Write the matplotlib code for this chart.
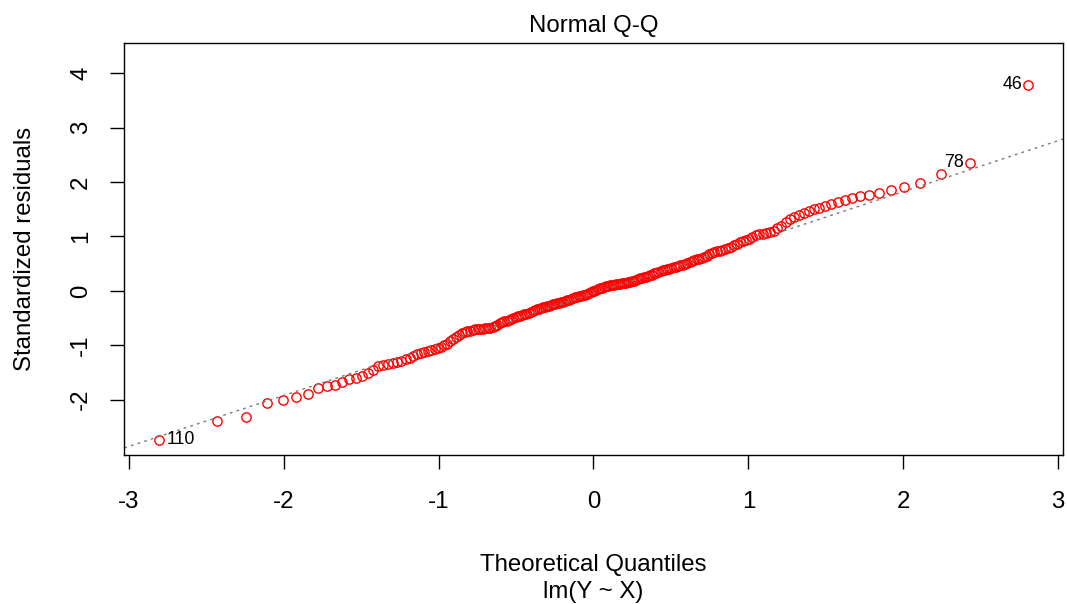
"""Normal Q-Q plot of standardized residuals for lm(Y ~ X), styled like R's plot.lm(which=2)."""

from statistics import NormalDist

import matplotlib

matplotlib.use("Agg")
import matplotlib.pyplot as plt
import numpy as np

plt.rcParams["font.family"] = ["Liberation Sans", "DejaVu Sans"]

# sorted standardized residuals (n = 200)
std_resid_sorted = [
    -2.74, -2.40, -2.33, -2.06, -2.00, -1.95, -1.90, -1.79, -1.76, -1.74,
    -1.68, -1.63, -1.60, -1.57, -1.51, -1.45, -1.38, -1.36, -1.35, -1.33,
    -1.31, -1.29, -1.26, -1.23, -1.20, -1.17, -1.15, -1.12, -1.10, -1.08,
    -1.07, -1.05, -1.03, -1.00, -0.97, -0.93, -0.89, -0.85, -0.81, -0.78,
    -0.76, -0.74, -0.73, -0.72, -0.71, -0.71, -0.70, -0.70, -0.69, -0.69,
    -0.68, -0.66, -0.64, -0.62, -0.60, -0.58, -0.56, -0.55, -0.53, -0.51,
    -0.50, -0.48, -0.47, -0.46, -0.45, -0.43, -0.42, -0.40, -0.39, -0.37,
    -0.36, -0.34, -0.33, -0.31, -0.30, -0.29, -0.28, -0.27, -0.26, -0.25,
    -0.24, -0.23, -0.22, -0.21, -0.20, -0.18, -0.17, -0.16, -0.15, -0.13,
    -0.12, -0.11, -0.10, -0.09, -0.08, -0.07, -0.06, -0.04, -0.03, -0.01,
    0.00, 0.02, 0.03, 0.05, 0.06, 0.07, 0.08, 0.09, 0.10, 0.11,
    0.11, 0.12, 0.13, 0.13, 0.14, 0.14, 0.15, 0.16, 0.17, 0.18,
    0.19, 0.20, 0.21, 0.23, 0.24, 0.25, 0.26, 0.27, 0.29, 0.30,
    0.32, 0.33, 0.35, 0.36, 0.38, 0.39, 0.40, 0.41, 0.42, 0.43,
    0.44, 0.46, 0.47, 0.48, 0.50, 0.51, 0.53, 0.55, 0.56, 0.58,
    0.59, 0.61, 0.63, 0.65, 0.67, 0.69, 0.71, 0.73, 0.74, 0.76,
    0.77, 0.79, 0.81, 0.84, 0.87, 0.90, 0.92, 0.94, 0.96, 0.99,
    1.02, 1.04, 1.05, 1.06, 1.08, 1.11, 1.15, 1.19, 1.26, 1.32,
    1.36, 1.39, 1.43, 1.46, 1.50, 1.53, 1.56, 1.60, 1.64, 1.68,
    1.71, 1.74, 1.77, 1.80, 1.86, 1.91, 1.99, 2.15, 2.36, 3.79,
]

# labelled observations: id and rank in the sorted residuals (0-based)
label_ids = ["46", "78", "110"]
label_rank = [199, 198, 0]

x_ticks = [-3, -2, -1, 0, 1, 2, 3]
y_ticks = [-2, -1, 0, 1, 2, 3, 4]

FONT = 17.3
ID_FONT = 12.8
W_PX, H_PX = 1067, 604


def main() -> None:
    y = np.asarray(std_resid_sorted, dtype=float)
    n = y.size
    nd = NormalDist()
    # R ppoints(n) for n > 10
    x = np.array([nd.inv_cdf((i + 0.5) / n) for i in range(n)])

    # qqline through the quartiles
    q_y = np.quantile(y, [0.25, 0.75])
    q_x = np.array([nd.inv_cdf(0.25), nd.inv_cdf(0.75)])
    slope = (q_y[1] - q_y[0]) / (q_x[1] - q_x[0])
    intercept = q_y[0] - slope * q_x[0]

    fig = plt.figure(figsize=(W_PX / 100, H_PX / 100), dpi=100)
    ax = fig.add_axes([124 / W_PX, 1 - 455 / H_PX, (1063 - 124) / W_PX, (455 - 43) / H_PX])

    ax.plot(x, y, linestyle="none", marker="o", markersize=6.7,
            markerfacecolor="none", markeredgecolor="red", markeredgewidth=1.0)

    xl = np.array([-4.0, 4.0])
    ax.plot(xl, intercept + slope * xl, color="#7a7a7a", lw=1.0,
            linestyle=(0, (2, 3)))

    # R-style limits: 4% expansion, extra 7.5% head-room for ids
    xr = x.max() - x.min()
    ax.set_xlim(x.min() - 0.04 * xr, x.max() + 0.04 * xr)
    y_lo, y_hi = y.min(), y.max()
    y_hi = y_hi + 0.075 * (y_hi - y_lo)
    yr = y_hi - y_lo
    ax.set_ylim(y_lo - 0.04 * yr, y_hi + 0.04 * yr)

    mid = 0.5 * (x.min() + x.max())
    for lab, k in zip(label_ids, label_rank):
        if x[k] < mid:
            ax.annotate(lab, (x[k], y[k]), xytext=(5.5, 0), textcoords="offset points",
                        ha="left", va="center", fontsize=ID_FONT)
        else:
            ax.annotate(lab, (x[k], y[k]), xytext=(-4.5, 0), textcoords="offset points",
                        ha="right", va="center", fontsize=ID_FONT)

    ax.set_xticks(x_ticks)
    ax.set_yticks(y_ticks)
    ax.set_xticklabels([str(v) for v in x_ticks])
    ax.set_yticklabels([str(v) for v in y_ticks], rotation=90, va="center")
    ax.tick_params(axis="both", direction="out", length=10, width=1.0,
                   labelsize=FONT, color="black")
    ax.tick_params(axis="x", pad=16)
    ax.tick_params(axis="y", pad=13)
    for sp in ax.spines.values():
        sp.set_linewidth(1.0)
        sp.set_color("black")

    cx = 0.5 * (124 + 1063) / W_PX
    fig.text(cx, 1 - 32 / H_PX, "Normal Q-Q", ha="center", va="baseline", fontsize=FONT)
    fig.text(25 / W_PX, 1 - 249 / H_PX, "Standardized residuals", rotation=90,
             ha="center", va="center", fontsize=FONT)
    fig.text(cx, 1 - 571 / H_PX, "Theoretical Quantiles", ha="center",
             va="baseline", fontsize=FONT)
    fig.text(cx, 1 - 598 / H_PX, "lm(Y ~ X)", ha="center", va="baseline",
             fontsize=FONT)

    fig.savefig("out.png", dpi=100)
    plt.close(fig)


if __name__ == "__main__":
    main()
